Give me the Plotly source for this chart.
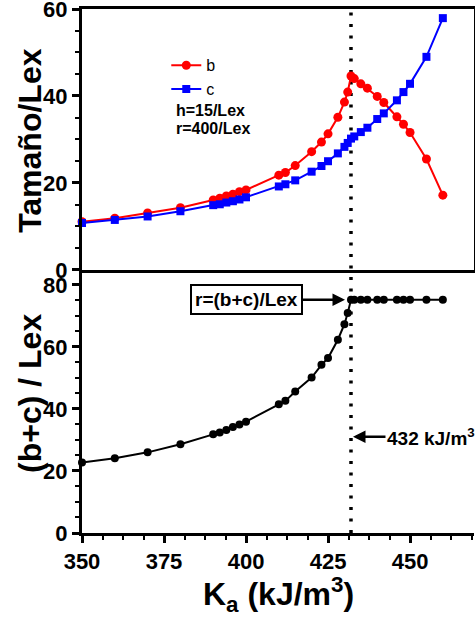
import plotly.graph_objects as go

# ---- data ----
ka = [350, 360, 370, 380, 390, 392, 394, 396, 398, 400, 410, 412, 415, 420, 423,
      425, 428, 430, 431, 432, 433, 435, 437, 440, 442, 446, 448, 450, 455, 460]
b_vals = [11.1, 11.9, 13.1, 14.3, 16.1, 16.5, 17.0, 17.4, 18.0, 18.4, 21.8, 22.4, 24.0, 27.2, 29.4,
          31.3, 35.1, 38.6, 40.9, 44.6, 44.0, 42.8, 41.8, 39.9, 38.5, 35.2, 33.5, 31.6, 25.5, 17.2]
c_vals = [10.8, 11.5, 12.3, 13.5, 14.9, 15.1, 15.5, 15.8, 16.2, 16.7, 19.2, 19.7, 20.6, 22.6, 23.9,
          25.0, 26.8, 28.3, 29.2, 30.2, 30.7, 31.7, 32.7, 34.7, 36.0, 39.0, 40.9, 42.8, 49.0, 57.9]
r_vals = [22.7, 24.1, 26.0, 28.6, 31.8, 32.4, 33.2, 34.2, 35.0, 35.9, 41.5, 42.6, 45.6, 50.1, 54.2,
          56.4, 62.3, 67.3, 70.9, 75.2, 75.2, 75.2, 75.2, 75.2, 75.2, 75.2, 75.2, 75.2, 75.2, 75.2]
x_ticks = [350, 375, 400, 425, 450]
y_top_ticks = [0, 20, 40, 60]
y_bot_ticks = [0, 20, 40, 60, 80]
k_crit = 432
r_plateau = 75.2

FONT = "Liberation Sans, Arial, sans-serif"
fig = go.Figure()

fig.add_trace(go.Scatter(x=ka, y=b_vals, name="b", mode="lines+markers",
                         line=dict(color="#ff0000", width=2),
                         marker=dict(symbol="circle", size=9, color="#ff0000"),
                         xaxis="x", yaxis="y", cliponaxis=False))
fig.add_trace(go.Scatter(x=ka, y=c_vals, name="c", mode="lines+markers",
                         line=dict(color="#0000ff", width=2),
                         marker=dict(symbol="square", size=8, color="#0000ff"),
                         xaxis="x", yaxis="y", cliponaxis=False))
fig.add_trace(go.Scatter(x=ka, y=r_vals, name="r", mode="lines+markers", showlegend=False,
                         line=dict(color="black", width=2),
                         marker=dict(symbol="circle", size=8, color="black"),
                         xaxis="x2", yaxis="y2", cliponaxis=False))

tickfont = dict(family=FONT, size=22, color="black", weight="bold")
xr = [350, 469.5]
dom_split = 0.502

fig.update_layout(
    width=475, height=623,
    margin=dict(l=82, r=1, t=9, b=90, autoexpand=False),
    plot_bgcolor="white", paper_bgcolor="white",
    showlegend=True,
    legend=dict(x=0.215, y=0.925, xanchor="left", yanchor="top",
                font=dict(family=FONT, size=16, color="black"),
                bgcolor="rgba(0,0,0,0)", tracegroupgap=0, itemwidth=30),
    xaxis=dict(domain=[0, 1], range=xr, anchor="y", showline=True, linecolor="black",
               linewidth=3, mirror=True, showticklabels=False, ticks="",
               showgrid=False, zeroline=False, automargin=False),
    yaxis=dict(domain=[dom_split, 1], range=[0, 60], anchor="x", showline=True,
               linecolor="black", linewidth=3, mirror=True, ticks="outside",
               ticklen=7, tickwidth=2.5, tickvals=y_top_ticks, tickfont=tickfont,
               ticklabeloverflow="allow", automargin=False,
               minor=dict(dtick=5, ticks="outside", ticklen=4, tickwidth=2, tickcolor="black"),
               tickcolor="black", showgrid=False, zeroline=False),
    xaxis2=dict(domain=[0, 1], range=xr, anchor="y2", showline=True, linecolor="black",
                linewidth=3, ticks="outside", ticklen=7, tickwidth=2.5, tickcolor="black",
                tickvals=x_ticks, tickfont=tickfont, ticklabeloverflow="allow",
                automargin=False,
                minor=dict(dtick=6.25, tick0=350, ticks="outside", ticklen=4, tickwidth=2,
                           tickcolor="black"),
                showgrid=False, zeroline=False),
    yaxis2=dict(domain=[0, dom_split], range=[0, 84.8], anchor="x2", showline=True,
                linecolor="black", linewidth=3, ticks="outside", ticklen=7, tickwidth=2.5,
                tickcolor="black", tickvals=y_bot_ticks, tickfont=tickfont,
                ticklabeloverflow="allow", automargin=False,
                minor=dict(dtick=5, ticks="outside", ticklen=4, tickwidth=2, tickcolor="black"),
                showgrid=False, zeroline=False),
)

# dotted vertical line at the critical anisotropy
fig.add_shape(type="line", xref="x2", yref="paper", x0=k_crit, x1=k_crit, y0=0, y1=1,
              line=dict(color="black", width=3.5, dash="3px,8.5px"), layer="below")

bold = dict(family=FONT, color="black", weight="bold")
annots = [
    dict(text="Tamaño/Lex", xref="paper", yref="paper", x=-0.133, y=0.750, textangle=-90,
         showarrow=False, font=dict(size=32, **bold), xanchor="center", yanchor="middle"),
    dict(text="(b+c) / Lex", xref="paper", yref="paper", x=-0.133, y=0.267, textangle=-90,
         showarrow=False, font=dict(size=32, **bold), xanchor="center", yanchor="middle"),
    dict(text="K<sub>a</sub> (kJ/m<sup>3</sup>)", xref="paper", yref="paper", x=0.5, y=-0.118,
         showarrow=False, font=dict(size=32, **bold), xanchor="center", yanchor="middle"),
    dict(text="h=15/Lex", xref="paper", yref="paper", x=0.235, y=0.806, xanchor="left",
         yanchor="middle", showarrow=False, font=dict(size=16, **bold)),
    dict(text="r=400/Lex", xref="paper", yref="paper", x=0.235, y=0.771, xanchor="left",
         yanchor="middle", showarrow=False, font=dict(size=16, **bold)),
    dict(text="r=(b+c)/Lex", xref="x2", yref="y2", x=k_crit, y=r_plateau, ax=-104, ay=0,
         showarrow=True, arrowhead=2, arrowsize=1, arrowwidth=2.5, arrowcolor="black",
         standoff=6, bordercolor="black", borderwidth=2, borderpad=3, bgcolor="white",
         font=dict(size=19, **bold)),
    dict(text="432 kJ/m<sup>3</sup>", xref="x2", yref="y2", x=k_crit, y=31, ax=80, ay=0,
         showarrow=True, arrowhead=2, arrowsize=1, arrowwidth=2.5, arrowcolor="black",
         standoff=2, font=dict(size=19, **bold)),
]
fig.update_layout(annotations=annots)

fig.write_html("out.html")
